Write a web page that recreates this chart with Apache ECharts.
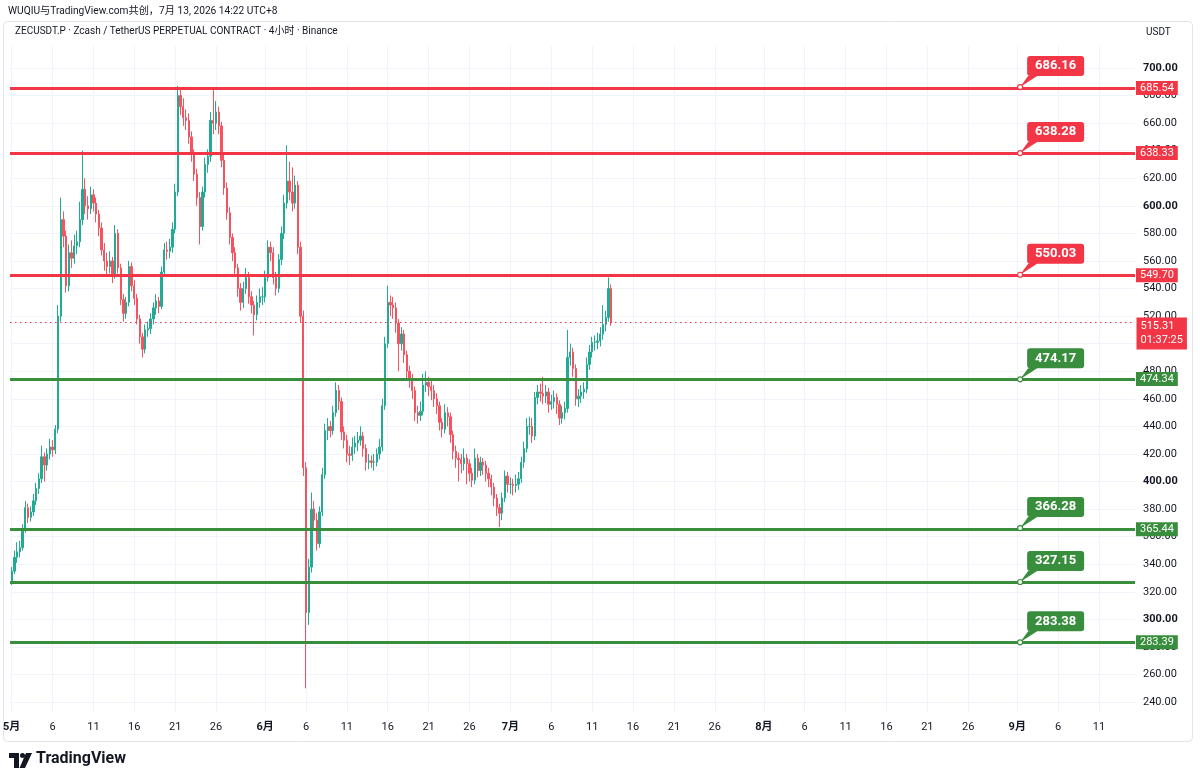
<!DOCTYPE html>
<html>
<head>
<meta charset="utf-8">
<title>ZECUSDT.P 4小时</title>
<script src="https://cdn.jsdelivr.net/npm/echarts@6/dist/echarts.min.js"></script>
<style>
  html, body { margin: 0; padding: 0; background: #fff; }
  #chart { width: 1200px; height: 784px; }
</style>
</head>
<body>
<div id="chart"></div>
<script>
  // candles, 8h each, first one opens 2026-05-01 00:00
  // rows are [open, close, low, high]
  var candleHours = 8;
  var ohlc = [
    [328, 335, 325, 338], [335, 345, 333, 350], [345, 349, 341, 356],
    [349, 352, 345, 357], [352, 366, 350, 369], [366, 381, 363, 386],
    [381, 374, 370, 384], [374, 378, 371, 382], [378, 386, 375, 391],
    [386, 395, 383, 399], [395, 402, 391, 406], [402, 418, 399, 426],
    [418, 412, 400, 421], [412, 420, 408, 424], [420, 425, 416, 431],
    [425, 423, 418, 430], [423, 438, 420, 441], [438, 520, 435, 528],
    [520, 590, 516, 606], [590, 578, 570, 596], [578, 542, 537, 582],
    [542, 566, 538, 572], [566, 562, 555, 575], [562, 571, 558, 579],
    [571, 574, 565, 582], [574, 590, 570, 603], [590, 612, 586, 640],
    [612, 600, 594, 620], [600, 598, 590, 607], [598, 608, 594, 614],
    [608, 602, 596, 612], [602, 594, 588, 606], [594, 584, 578, 597],
    [584, 568, 564, 588], [568, 560, 553, 573], [560, 556, 550, 566],
    [556, 560, 551, 567], [560, 550, 544, 563], [550, 580, 547, 586],
    [580, 555, 551, 583], [555, 532, 528, 558], [532, 522, 516, 536],
    [522, 530, 518, 534], [530, 556, 527, 560], [556, 542, 538, 559],
    [542, 533, 528, 546], [533, 518, 514, 536], [518, 505, 500, 521],
    [505, 496, 490, 508], [496, 510, 493, 514], [510, 511, 505, 516],
    [511, 518, 507, 522], [518, 526, 514, 530], [526, 531, 521, 536],
    [531, 527, 522, 534], [527, 552, 525, 556], [552, 568, 549, 573],
    [568, 567, 561, 574], [567, 570, 562, 576], [570, 583, 566, 588],
    [583, 610, 580, 616], [610, 680, 607, 687], [680, 672, 666, 686],
    [672, 664, 658, 678], [664, 662, 655, 670], [662, 650, 645, 667],
    [650, 638, 632, 654], [638, 623, 618, 641], [623, 606, 600, 627],
    [606, 585, 572, 610], [585, 610, 582, 614], [610, 630, 606, 635],
    [630, 636, 624, 641], [636, 662, 632, 668], [662, 660, 652, 686],
    [660, 668, 655, 676], [668, 658, 652, 672], [658, 633, 628, 661],
    [633, 613, 608, 637], [613, 595, 590, 617], [595, 577, 572, 599],
    [577, 566, 560, 580], [566, 555, 550, 570], [555, 540, 534, 558],
    [540, 530, 524, 544], [530, 540, 526, 545], [540, 548, 536, 555],
    [548, 534, 529, 552], [534, 528, 522, 538], [528, 521, 506, 531],
    [521, 530, 517, 535], [530, 534, 526, 540], [534, 534, 528, 541],
    [534, 548, 530, 553], [548, 570, 545, 575], [570, 566, 560, 574],
    [566, 548, 543, 570], [548, 540, 535, 552], [540, 561, 537, 565],
    [561, 580, 557, 585], [580, 602, 576, 608], [602, 618, 598, 644],
    [618, 610, 604, 632], [610, 602, 596, 628], [602, 615, 598, 622],
    [615, 570, 565, 618], [570, 520, 515, 574], [520, 410, 404, 524],
    [410, 305, 250, 414], [305, 338, 296, 344], [338, 380, 334, 392],
    [380, 372, 366, 386], [372, 355, 350, 377], [355, 378, 352, 382],
    [378, 405, 375, 410], [405, 437, 402, 442], [437, 440, 430, 446],
    [440, 437, 432, 444], [437, 450, 434, 455], [450, 466, 447, 472],
    [466, 458, 452, 470], [458, 436, 430, 461], [436, 430, 424, 440],
    [430, 420, 414, 434], [420, 419, 412, 426], [419, 425, 415, 432],
    [425, 428, 420, 433], [428, 430, 422, 436], [430, 433, 426, 440],
    [433, 424, 418, 436], [424, 414, 408, 427], [414, 415, 409, 420],
    [415, 414, 410, 419], [414, 414, 408, 420], [414, 420, 411, 424],
    [420, 425, 416, 431], [425, 455, 422, 460], [455, 500, 452, 505],
    [500, 530, 497, 542], [530, 528, 520, 535], [528, 526, 518, 534],
    [526, 515, 508, 530], [515, 500, 480, 518], [500, 507, 495, 512],
    [507, 492, 486, 510], [492, 480, 474, 495], [480, 474, 468, 484],
    [474, 466, 460, 478], [466, 450, 444, 469], [450, 448, 442, 455],
    [448, 451, 444, 458], [451, 470, 448, 478], [470, 472, 465, 480],
    [472, 469, 462, 476], [469, 466, 459, 473], [466, 460, 454, 470],
    [460, 455, 449, 464], [455, 443, 437, 458], [443, 438, 432, 446],
    [438, 450, 435, 456], [450, 447, 440, 454], [447, 434, 428, 450],
    [434, 422, 416, 437], [422, 417, 410, 426], [417, 416, 400, 421],
    [416, 413, 406, 420], [413, 417, 408, 424], [417, 413, 398, 420],
    [413, 406, 400, 416], [406, 401, 396, 410], [401, 417, 398, 424],
    [417, 408, 403, 420], [408, 414, 404, 418], [414, 412, 405, 417],
    [412, 406, 400, 415], [406, 402, 396, 410], [402, 396, 390, 405],
    [396, 388, 382, 399], [388, 381, 375, 391], [381, 377, 367, 384],
    [377, 388, 372, 392], [388, 404, 385, 408], [404, 398, 392, 407],
    [398, 398, 391, 403], [398, 397, 390, 402], [397, 398, 392, 405],
    [398, 402, 394, 407], [402, 414, 399, 418], [414, 424, 410, 429],
    [424, 440, 421, 446], [440, 440, 434, 447], [440, 433, 428, 446],
    [433, 461, 430, 465], [461, 465, 456, 470], [465, 464, 458, 471],
    [464, 462, 456, 476], [462, 465, 457, 470], [465, 456, 450, 468],
    [456, 458, 452, 463], [458, 461, 453, 466], [461, 456, 449, 464],
    [456, 446, 441, 459], [446, 450, 442, 455], [450, 453, 445, 458],
    [453, 490, 450, 510], [490, 494, 484, 500], [494, 482, 476, 497],
    [482, 460, 455, 485], [460, 462, 454, 467], [462, 465, 457, 470],
    [465, 467, 460, 472], [467, 485, 464, 490], [485, 494, 481, 499],
    [494, 501, 490, 505], [501, 501, 495, 506], [501, 502, 496, 508],
    [502, 507, 498, 512], [507, 514, 503, 528], [514, 519, 509, 524],
    [519, 540, 516, 548], [540, 515.31, 513, 543]
  ];

  // horizontal levels: value where the line sits (axis tag) and the callout price
  var levelPrices = [685.54, 638.33, 549.70, 474.34, 365.44, 327.15, 283.39];
  var levelTags = ['685.54', '638.33', '549.70', '474.34', '365.44', '', '283.39'];
  var levelSides = ['resist', 'resist', 'resist', 'support', 'support', 'support', 'support'];
  var calloutPrices = [686.16, 638.28, 550.03, 474.17, 366.28, 327.15, 283.38];
  var calloutDay = 123.35;

  var lastPrice = 515.31;
  var countdown = '01:37:25';

  var priceTicks = [240, 260, 280, 300, 320, 340, 360, 380, 400, 420, 440, 460,
    480, 500, 520, 540, 560, 580, 600, 620, 640, 660, 680, 700];
  // days counted from May 1
  var dayTicks = [0, 5, 10, 15, 20, 25, 31, 36, 41, 46, 51, 56, 61, 66, 71, 76,
    81, 86, 92, 97, 102, 107, 112, 117, 123, 128, 133];
  var dayLabels = ['5月', '6', '11', '16', '21', '26', '6月', '6', '11', '16', '21', '26',
    '7月', '6', '11', '16', '21', '26', '8月', '6', '11', '16', '21', '26', '9月', '6', '11'];

  var dayMin = -0.2, dayMax = 137.4;
  var priceMin = 232.83, priceMax = 715.96;

  var RED = '#f23645';
  var GREEN = '#388e3c';
  var FONT = 'Roboto, "Noto Sans CJK SC", sans-serif';
  var TEXT = '#131722';

  var chart = echarts.init(document.getElementById('chart'));

  var candles = ohlc.map(function (r, i) {
    return [i * candleHours / 24, r[0], r[1], r[2], r[3]];
  });

  // callout bubble: rounded box with a pointer to the bottom-left corner
  var bubble = 'path://M10,0 L61,0 Q64,0 64,3 L64,17 Q64,20 61,20 L17,20 L0,31 L8,20 L10,20 Q7,20 7,17 L7,3 Q7,0 10,0 Z';

  function sideColor(i) {
    return levelSides[i] === 'resist' ? RED : GREEN;
  }

  var lineMarks = levelPrices.map(function (p, i) {
    return {
      yAxis: p,
      lineStyle: { color: sideColor(i), width: 3, type: 'solid', opacity: 1 },
      label: {
        show: levelTags[i] !== '',
        position: 'end',
        distance: 1,
        formatter: levelTags[i],
        color: '#fff',
        fontFamily: FONT,
        fontSize: 11,
        backgroundColor: sideColor(i),
        padding: [2, 4, 1, 4]
      }
    };
  });
  lineMarks.push({
    yAxis: lastPrice,
    lineStyle: { color: RED, width: 1, type: [1.5, 3.5], opacity: 1 },
    label: { show: false }
  });

  var pointMarks = [];
  calloutPrices.forEach(function (p, i) {
    pointMarks.push({
      coord: [calloutDay, p],
      value: p,
      symbol: bubble,
      symbolSize: [64, 31],
      symbolOffset: [32, -15.5],
      itemStyle: { color: sideColor(i) },
      label: {
        show: true,
        position: 'inside',
        offset: [3.5, -5.5],
        formatter: p.toFixed(2),
        color: '#fff',
        fontFamily: FONT,
        fontSize: 13,
        fontWeight: 'bold'
      }
    });
    pointMarks.push({
      coord: [calloutDay, p],
      symbol: 'circle',
      symbolSize: 5,
      itemStyle: { color: '#fff', borderColor: sideColor(i), borderWidth: 1.2 },
      label: { show: false }
    });
  });
  pointMarks.push({
    coord: [dayMax, lastPrice],
    symbol: 'rect',
    symbolSize: 1,
    itemStyle: { color: 'rgba(0,0,0,0)' },
    label: {
      show: true,
      position: 'right',
      distance: 1,
      offset: [0, 11],
      formatter: lastPrice.toFixed(2) + '\n' + countdown,
      color: '#fff',
      fontFamily: FONT,
      fontSize: 11,
      lineHeight: 14,
      backgroundColor: RED,
      padding: [2, 4, 2, 4]
    }
  });

  var option = {
    backgroundColor: '#fff',
    animation: false,
    textStyle: { fontFamily: FONT },
    grid: { left: 8, right: 65, top: 46, bottom: 72 },
    xAxis: {
      type: 'value',
      min: dayMin,
      max: dayMax,
      axisLine: { show: false },
      axisTick: { show: false, customValues: dayTicks },
      splitLine: { show: true, lineStyle: { color: '#f0f3fa', width: 1 } },
      axisLabel: {
        customValues: dayTicks,
        margin: 10,
        color: TEXT,
        fontSize: 11,
        fontFamily: FONT,
        formatter: function (v) {
          var s = dayLabels[dayTicks.indexOf(v)] || '';
          return s.indexOf('月') >= 0 ? '{m|' + s + '}' : s;
        },
        rich: { m: { fontWeight: 'bold', fontSize: 11, color: TEXT, fontFamily: FONT } }
      }
    },
    yAxis: {
      type: 'value',
      position: 'right',
      min: priceMin,
      max: priceMax,
      scale: true,
      axisLine: { show: false },
      axisTick: { show: false, customValues: priceTicks },
      splitLine: { show: true, lineStyle: { color: '#f0f3fa', width: 1 } },
      axisLabel: {
        customValues: priceTicks,
        margin: 8,
        color: TEXT,
        fontSize: 11,
        fontFamily: FONT,
        formatter: function (v) {
          var s = v.toFixed(2);
          return v % 100 === 0 ? '{b|' + s + '}' : s;
        },
        rich: { b: { fontWeight: 'bold', fontSize: 11, color: TEXT, fontFamily: FONT } }
      }
    },
    series: [{
      type: 'candlestick',
      name: 'ZECUSDT.P',
      data: candles,
      encode: { x: 0, y: [1, 2, 3, 4] },
      barWidth: 1.8,
      itemStyle: {
        color: '#22ab94',
        color0: '#f7525f',
        borderColor: '#22ab94',
        borderColor0: '#f7525f',
        borderWidth: 1
      },
      markLine: {
        silent: true,
        symbol: ['none', 'none'],
        data: lineMarks
      },
      markPoint: {
        silent: true,
        data: pointMarks
      }
    }],
    graphic: [
      {
        type: 'rect', z: -1, silent: true,
        shape: { x: 3.5, y: 21.5, width: 1189, height: 720, r: 4 },
        style: { fill: 'none', stroke: '#e0e3eb', lineWidth: 1 }
      },
      {
        type: 'text', left: 8, top: 6,
        style: { text: 'WUQIU与TradingView.com共创，7月 13, 2026 14:22 UTC+8', fill: TEXT, font: '10.2px ' + FONT }
      },
      {
        type: 'text', left: 15, top: 27,
        style: { text: 'ZECUSDT.P · Zcash / TetherUS PERPETUAL CONTRACT · 4小时 · Binance', fill: TEXT, font: '10px ' + FONT }
      },
      {
        type: 'text', left: 1146, top: 28,
        style: { text: 'USDT', fill: TEXT, font: '10px ' + FONT }
      },
      {
        type: 'group', left: 9, top: 753,
        children: [
          { type: 'rect', shape: { x: 0, y: 0, width: 10, height: 5 }, style: { fill: TEXT } },
          { type: 'rect', shape: { x: 5, y: 0, width: 5, height: 15 }, style: { fill: TEXT } },
          { type: 'circle', shape: { cx: 13.5, cy: 2.5, r: 2.5 }, style: { fill: TEXT } },
          { type: 'polygon', shape: { points: [[17, 0], [23, 0], [16, 15], [10.5, 15]] }, style: { fill: TEXT } }
        ]
      },
      {
        type: 'text', left: 36, top: 751,
        style: { text: 'TradingView', fill: TEXT, font: 'bold 16px ' + FONT }
      }
    ]
  };

  chart.setOption(option);
</script>
</body>
</html>
